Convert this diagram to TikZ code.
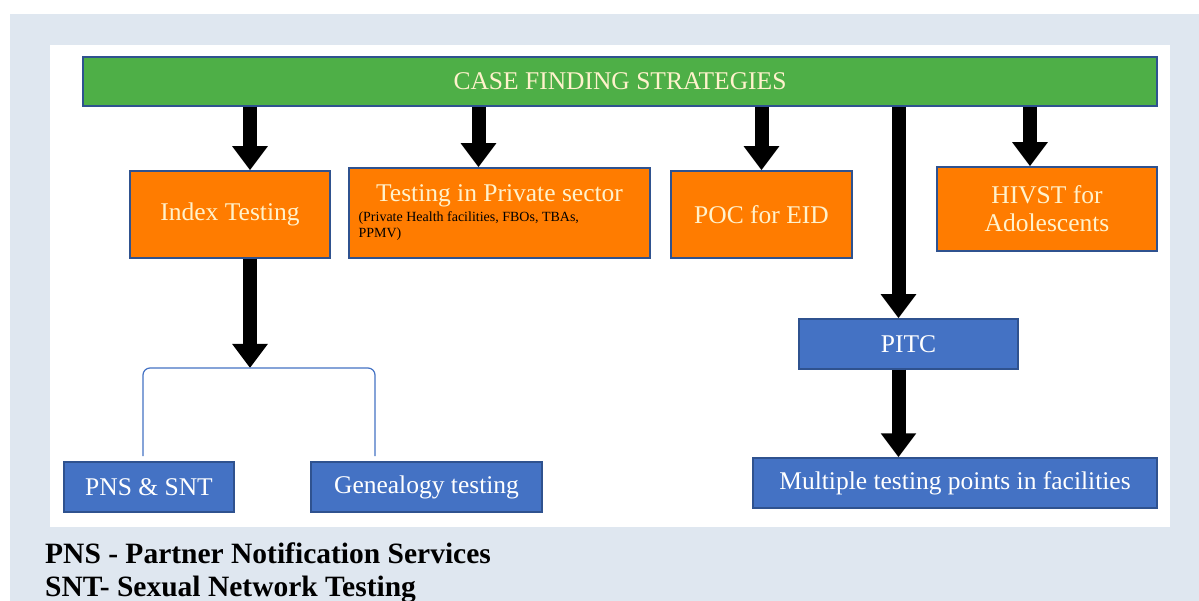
\documentclass[tikz,border=0pt]{standalone}
\usepackage{fontspec}
\setmainfont{Liberation Serif}
\usetikzlibrary{arrows.meta}
\definecolor{pagebg}{HTML}{DFE7F0}
\definecolor{bargreen}{HTML}{4EAF47}
\definecolor{boxorange}{HTML}{FF7C00}
\definecolor{boxblue}{HTML}{4472C4}
\definecolor{edgeblue}{HTML}{2F528F}
\definecolor{textcream}{HTML}{FFF2CC}
\tikzstyle{basebox} = [draw=edgeblue, line width=1.5pt, rectangle, inner sep=2pt,
    font=\fontsize{25.5}{28}\selectfont, align=center]
\tikzstyle{greenbar} = [basebox, fill=bargreen, text=textcream]
\tikzstyle{orangebox} = [basebox, fill=boxorange, text=textcream]
\tikzstyle{bluebox} = [basebox, fill=boxblue, text=white]
\tikzstyle{bigarrow} = [draw=black, line width=14pt, -{Triangle[width=34pt,length=24pt]}]
\tikzstyle{bracketline} = [draw=boxblue, line width=1.2pt, rounded corners=7pt]
\tikzstyle{legend} = [anchor=base west, inner sep=0pt, font=\fontsize{29.5}{33}\selectfont\bfseries]

\begin{document}
\begin{tikzpicture}[x=1pt, y=-1pt]
    % frame and panel
    \useasboundingbox (0,0) rectangle (1199,601);
    \fill[pagebg] (10,14) rectangle (1199,601);
    \fill[white] (50,45) rectangle (1170,527);

    \node[greenbar, minimum width=1074pt, minimum height=49pt] (cfs) at (620,81.5) {CASE FINDING STRATEGIES};

    \node[orangebox, minimum width=200pt, minimum height=87pt] (idx) at (230,214.5) {\raisebox{-3pt}{Index Testing}};
    \node[orangebox, minimum width=301pt, minimum height=90pt] (priv) at (499.5,213) {%
        \parbox{282pt}{\centering Testing in Private sector\par\vspace{3pt}
        \raggedright\color{black}\fontsize{14}{16.5}\selectfont (Private Health facilities, FBOs, TBAs,\\PPMV)}};
    \node[orangebox, minimum width=181pt, minimum height=87pt] (poc) at (761.5,214.5) {POC for EID};
    \node[orangebox, minimum width=220pt, minimum height=84pt] (hivst) at (1047,209) {HIVST for\\Adolescents};

    \node[bluebox, minimum width=219pt, minimum height=50pt] (pitc) at (908.5,344) {PITC};
    \node[bluebox, minimum width=404pt, minimum height=50pt] (multi) at (955,483) {Multiple testing points in facilities};
    \node[bluebox, minimum width=170pt, minimum height=50pt] (pns) at (149,487) {PNS \& SNT};
    \node[bluebox, minimum width=231pt, minimum height=50pt] (gen) at (426.5,487) {Genealogy testing};

    % arrow ends
    \coordinate (idxtop) at ([xshift=20pt]idx.north);
    \coordinate (privtop) at ([xshift=-21pt]priv.north);
    \coordinate (poctop) at (poc.north);
    \coordinate (hivsttop) at ([xshift=-17pt]hivst.north);
    \coordinate (pitctop) at ([xshift=-10pt]pitc.north);
    \coordinate (split) at (idxtop |- 0,368);
    \coordinate (pnsend) at (143,456);
    \coordinate (genend) at (375,456);

    \draw[bigarrow] (cfs.south -| idxtop) -- (idxtop);
    \draw[bigarrow] (cfs.south -| privtop) -- (privtop);
    \draw[bigarrow] (cfs.south -| poctop) -- (poctop);
    \draw[bigarrow] (cfs.south -| hivsttop) -- (hivsttop);
    \draw[bigarrow] (cfs.south -| pitctop) -- (pitctop);
    \draw[bigarrow] (pitc.south -| pitctop) -- (multi.north -| pitctop);
    \draw[bigarrow] (idx.south -| idxtop) -- (split);

    \draw[bracketline] (pnsend) |- (split) -| (genend);

    \node[legend] (leg1) at (45,563) {PNS - Partner Notification Services};
    \node[legend] (leg2) at (45,596) {SNT- Sexual Network Testing};
\end{tikzpicture}
\end{document}
